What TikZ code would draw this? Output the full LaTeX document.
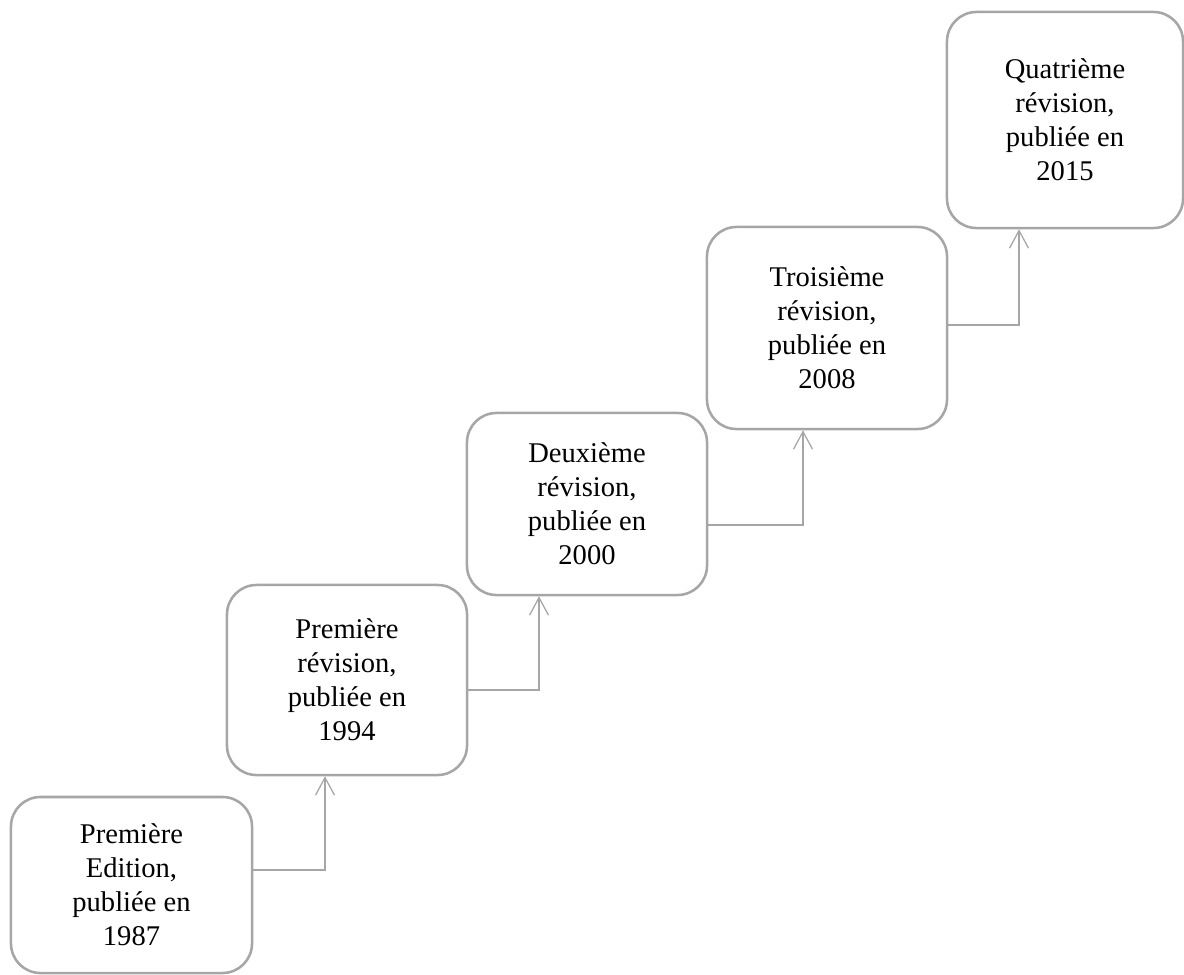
\documentclass[tikz,border=0pt]{standalone}
\usepackage{fontspec}
\setmainfont{Liberation Serif}
\usepackage{xcolor}
\usetikzlibrary{calc}
\usetikzlibrary{arrows.meta}

\definecolor{boxgray}{RGB}{166,166,166}

\tikzset{
  revbox/.style={draw=boxgray, line width=1.8pt, rounded corners=21pt,
    fill=white, align=center, inner sep=0pt,
    font=\fontsize{20.3}{24.2}\selectfont},
  revlink/.style={draw=boxgray, line width=0.9pt,
    -{Straight Barb[length=12.5pt,width=13.5pt]}}
}

\begin{document}
\begin{tikzpicture}[x=0.025cm,y=-0.025cm]
            \useasboundingbox (0,0) rectangle (1184,974);
            
            % Box for the first edition
            \node [revbox, minimum width=6.025cm, minimum height=4.40cm] (ed1987) at (131.5,885.0)
              {Première\\Edition,\\publiée en\\1987};%
            
            % Box for the first revision
            \node [revbox, minimum width=6.000cm, minimum height=4.75cm] (rev1994) at (347.0,680.0)
              {Première\\révision,\\publiée en\\1994};%
            
            % Box for the second revision
            \node [revbox, minimum width=6.000cm, minimum height=4.55cm] (rev2000) at (587.0,504.0)
              {Deuxième\\révision,\\publiée en\\2000};%
            
            % Box for the third revision
            \node [revbox, minimum width=6.000cm, minimum height=5.05cm] (rev2008) at (827.0,328.0)
              {Troisième\\révision,\\publiée en\\2008};%
            
            % Box for the fourth revision
            \node [revbox, minimum width=5.900cm, minimum height=5.40cm] (rev2015) at (1065.0,120.0)
              {Quatrième\\révision,\\publiée en\\2015};%
            
            % Corners of the links
            \coordinate (k1) at (325.0,870.0);%
            \coordinate (k2) at (539.0,690.0);%
            \coordinate (k3) at (803.0,525.0);%
            \coordinate (k4) at (1019.0,325.0);%
            
            % Drawing links
            \draw [revlink] (ed1987.east |- k1) -- (k1) -- (k1 |- rev1994.south);%
            \draw [revlink] (rev1994.east |- k2) -- (k2) -- (k2 |- rev2000.south);%
            \draw [revlink] (rev2000.east |- k3) -- (k3) -- (k3 |- rev2008.south);%
            \draw [revlink] (rev2008.east |- k4) -- (k4) -- (k4 |- rev2015.south);%
        \end{tikzpicture}
\end{document}
